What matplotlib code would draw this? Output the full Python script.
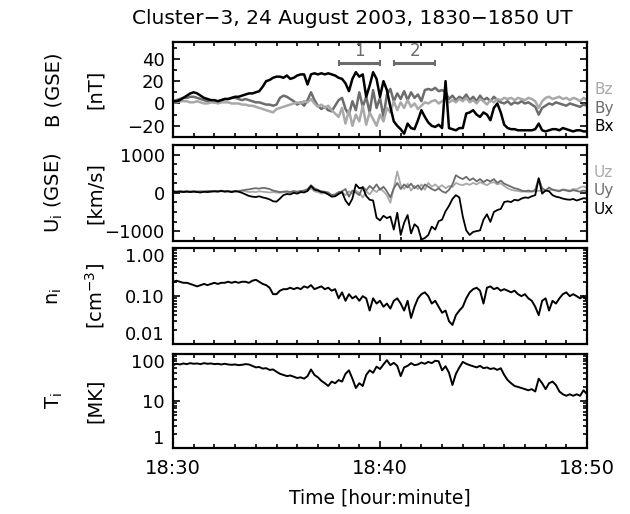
import numpy as np
import matplotlib.pyplot as plt
from matplotlib.ticker import FixedLocator, MultipleLocator, LogLocator, NullFormatter

# sample times: minutes after 18:30, every 10 s
t = np.arange(121) / 6.0

bx = [2, 2, 3, 5, 7, 9, 10, 9, 7, 5, 4, 3, 3, 2, 3, 4, 4, 5, 6, 6,
      7, 8, 9, 9, 10, 11, 15, 20, 21, 23, 24, 24, 23, 25, 22, 23, 25, 26, 26, 17,
      26, 27, 26, 27, 26, 27, 26, 25, 23, 22, 18, 11, 22, 28, 24, 26, 6, 16, 28, 22,
      6, 20, 12, -3, -16, -20, -23, -27, -18, -22, -23, -15, -6, -12, -17, -20, -21, -19, -22, 20,
      -22, -23, -24, -22, -22, -9, -8, -6, -10, -12, -8, -10, -15, -4, 0, -8, -19, -22, -23, -23,
      -24, -24, -24, -24, -24, -23, -18, -24, -25, -24, -23, -23, -24, -22, -23, -24, -25, -24, -24, -25,
      -25]
by = [2, 3, 4, 5, 5, 6, 6, 5, 4, 3, 2, 2, 1, 2, 3, 4, 4, 5, 5, 4,
      3, 4, 3, 2, 1, 1, 0, -1, -1, -2, -1, 5, 7, 6, 4, 2, -1, 1, -2, 3,
      10, 3, -2, -5, -3, -6, -7, -2, 3, 5, -5, -10, 2, -6, 10, -3, 6, -8, 12, -4,
      5, -12, 8, 13, 2, 9, 4, 11, 3, 10, 5, 8, 2, 12, 13, 12, 14, 11, 12, 10,
      4, 7, 3, 6, 4, 8, 3, 6, 2, 7, 3, 5, 2, 6, 3, 1, 0, 2, -1, 1,
      0, 2, 0, 1, -1, -3, -10, -4, -2, 0, -1, 1, 0, -1, -2, 0, -1, -2, -3, -1,
      -2]
bz = [1, 1, 2, 2, 2, 1, 1, 2, 1, 0, 0, 1, 1, 0, 1, 1, 1, 0, 0, 0,
      -1, -1, -2, -2, -3, -4, -5, -6, -7, -8, -5, -4, -3, -2, -1, 0, 1, 0, 2, 1,
      4, 0, -3, -1, -4, -2, -6, -9, -12, -4, -18, -6, -20, -10, -16, -2, -19, -8, -14, -20,
      -10, -16, -4, -8, 2, -6, 1, -4, 3, -3, 0, -5, -2, 1, 0, 2, 3, 0, 2, 4,
      1, 3, 1, 4, 2, 5, 1, 3, 0, 4, 2, -1, 3, 1, 4, 3, 5, 4, 5, 3,
      5, 4, 3, 5, 4, 2, -4, 2, 5, 6, 4, 5, 6, 4, 5, 3, 5, 4, 2, 5,
      3]

ux = [30, 20, 30, 20, 30, 20, 30, 20, 10, 30, 20, 30, 40, 30, 50, 30, 40, 20, 40, 30,
      0, -40, -80, -100, -110, -90, -120, -140, -170, -220, -230, -150, -60, -30, -40, 0, -20, 20, 10, 50,
      180, 80, 60, 20, 10, -40, -100, -90, -30, 20, -200, -320, -150, 220, 120, 140, -80, -180, -200, -650,
      -720, -600, -660, -620, -960, -520, -1100, -780, -580, -1060, -820, -900, -1220, -1180, -1100, -880, -960, -740, -700, -480,
      -340, -160, -60, -120, -620, -980, -1100, -1020, -1000, -980, -700, -560, -760, -500, -450, -420, -240, -220, -240, -180,
      -200, -150, -120, -130, -90, -60, 380, -20, 60, 40, -60, -100, -120, -150, -170, -180, -160, -200, -170, -140,
      -150]
uy = [40, 30, 40, 30, 40, 30, 40, 30, 40, 30, 40, 50, 40, 50, 40, 50, 40, 30, 50, 40,
      60, 80, 90, 110, 120, 110, 130, 120, 100, 60, 40, 20, 30, 40, 20, 40, 30, 50, 60, 100,
      200, 120, 80, 40, 30, 10, -60, -40, 20, 40, 100, -100, 60, 10, -60, 160, 60, 180, 100, 220,
      80, 160, 40, -120, 120, 260, 100, 220, 140, 240, 120, 200, 80, 220, 160, 100, 60, 120, 40, 0,
      80, 220, 460, 400, 360, 420, 330, 380, 300, 360, 280, 340, 300, 360, 260, 320, 240, 200, 160, 120,
      100, 60, 40, 60, 30, 80, 380, 120, 60, 140, 80, 60, 40, 80, 60, 40, 70, 50, 30, 60,
      40]
uz = [50, 40, 50, 40, 50, 40, 50, 40, 30, 40, 50, 40, 50, 40, 60, 40, 50, 40, 40, 50,
      60, 40, 20, 30, 20, 40, 30, 20, 10, 20, 10, 0, 20, 10, 30, 50, 20, 40, 30, 60,
      120, 40, 20, -20, 0, -40, -80, -60, 0, 20, -60, 40, -20, 60, 0, -120, 40, -40, 80, 20,
      120, 40, -60, -260, 120, 560, 200, 100, 240, 60, 180, 100, 220, 80, 260, 160, 220, 140, 200, 120,
      180, 150, 260, 220, 200, 240, 210, 260, 220, 280, 240, 200, 260, 280, 220, 250, 180, 120, 80, 60,
      50, 30, 40, 20, 50, 30, 60, 40, 80, 60, 90, 70, 60, 90, 80, 60, 100, 90, 140, 170,
      120]

ni = [0.20, 0.21, 0.20, 0.19, 0.19, 0.18, 0.17, 0.16, 0.17, 0.18, 0.17, 0.18, 0.19, 0.18, 0.19, 0.19, 0.20, 0.19, 0.20, 0.19,
      0.20, 0.20, 0.19, 0.21, 0.22, 0.20, 0.18, 0.17, 0.15, 0.11, 0.11, 0.13, 0.14, 0.14, 0.15, 0.14, 0.15, 0.14, 0.16, 0.15,
      0.17, 0.14, 0.15, 0.16, 0.14, 0.15, 0.13, 0.14, 0.09, 0.12, 0.08, 0.11, 0.09, 0.10, 0.08, 0.10, 0.09, 0.05, 0.09, 0.07,
      0.08, 0.06, 0.07, 0.055, 0.08, 0.09, 0.07, 0.05, 0.08, 0.035, 0.06, 0.09, 0.11, 0.12, 0.10, 0.07, 0.08, 0.06, 0.045, 0.05,
      0.03, 0.025, 0.04, 0.05, 0.06, 0.09, 0.12, 0.14, 0.15, 0.13, 0.07, 0.15, 0.16, 0.14, 0.15, 0.13, 0.14, 0.13, 0.12, 0.13,
      0.11, 0.10, 0.11, 0.09, 0.08, 0.06, 0.04, 0.08, 0.09, 0.05, 0.08, 0.07, 0.09, 0.11, 0.12, 0.10, 0.11, 0.10, 0.09, 0.10,
      0.08]
ti = [58, 62, 60, 63, 61, 64, 62, 63, 61, 64, 62, 63, 61, 62, 60, 62, 60, 59, 60, 58,
      59, 61, 60, 56, 52, 53, 49, 50, 46, 47, 42, 38, 36, 34, 35, 33, 31, 32, 30, 34,
      47, 36, 32, 27, 24, 21, 26, 24, 28, 26, 38, 45, 30, 19, 24, 21, 36, 45, 40, 54,
      48, 60, 74, 58, 65, 56, 34, 52, 56, 64, 58, 60, 66, 62, 68, 64, 72, 70, 45, 55,
      40, 22, 38, 52, 68, 62, 58, 55, 52, 56, 50, 52, 48, 50, 46, 50, 36, 28, 24, 21,
      20, 19, 18, 17, 18, 16, 30, 24, 18, 24, 26, 22, 16, 14, 13, 14, 13, 14, 13, 17,
      14]

intervals = [(8.0, 10.0), (10.67, 12.67)]
interval_names = ['1', '2']
interval_level = 36

light = '#a9a9a9'
mid = '#6c6c6c'

W, H = 630, 514
fig = plt.figure(figsize=(W / 100, H / 100), dpi=100)


def box(top, bottom):
    return [173 / W, 1 - bottom / H, 414 / W, (bottom - top) / H]


ax1 = fig.add_axes(box(42, 137))
ax2 = fig.add_axes(box(145, 240.7))
ax3 = fig.add_axes(box(248.3, 344))
ax4 = fig.add_axes(box(354, 448.3))
axes = [ax1, ax2, ax3, ax4]

# panel 1: magnetic field
ax1.plot(t, by, color=mid, lw=1.8)
ax1.plot(t, bz, color=light, lw=1.8)
ax1.plot(t, bx, color='black', lw=1.8)
for (a, b), name in zip(intervals, interval_names):
    ax1.plot([a, b], [interval_level, interval_level], color=mid, lw=2.2, solid_capstyle='butt')
    ax1.plot([a, a], [interval_level - 2, interval_level + 2], color=mid, lw=1.5)
    ax1.plot([b, b], [interval_level - 2, interval_level + 2], color=mid, lw=1.5)
    ax1.text((a + b) / 2, interval_level + 2.5, name, color=mid, ha='center', va='bottom', fontsize=12)
ax1.set_ylim(-30, 55)
ax1.set_yticks([-20, 0, 20, 40], ['\u221220', '0', '20', '40'])
ax1.yaxis.set_minor_locator(MultipleLocator(10))

# panel 2: ion velocity
ax2.plot(t, uz, color=light, lw=1.3)
ax2.plot(t, uy, color=mid, lw=1.3)
ax2.plot(t, ux, color='black', lw=1.3)
ax2.set_ylim(-1250, 1250)
ax2.set_yticks([-1000, 0, 1000], ['\u22121000', '0', '1000'])
ax2.yaxis.set_minor_locator(MultipleLocator(250))

# panel 3: density
ax3.plot(t, ni, color='black', lw=1.4)
ax3.set_yscale('log')
ax3.set_ylim(0.01, 1)
ax3.set_yticks([0.01, 0.1, 1], ['0.01', '0.10', '1.00'])

# panel 4: temperature
ax4.plot(t, ti, color='black', lw=1.4)
ax4.set_yscale('log')
ax4.set_ylim(1, 100)
ax4.set_yticks([1, 10, 100], ['1', '10', '100'])

for ax in (ax3, ax4):
    ax.yaxis.set_minor_locator(LogLocator(subs=np.arange(2, 10)))
    ax.yaxis.set_minor_formatter(NullFormatter())
    labs = ax.get_yticklabels()
    labs[0].set_va('bottom')
    labs[-1].set_va('top')

for ax in axes:
    ax.set_xlim(0, 20)
    ax.xaxis.set_major_locator(FixedLocator([0, 10, 20]))
    ax.xaxis.set_minor_locator(MultipleLocator(1))
    ax.tick_params(which='both', direction='in', top=True, right=True, width=1.2,
                   labelsize=13, pad=6, labelbottom=False)
    ax.tick_params(which='major', length=5)
    ax.tick_params(which='minor', length=3)
    for s in ax.spines.values():
        s.set_linewidth(1.6)

ax4.set_xticks([0, 10, 20], ['18:30', '18:40', '18:50'])
ax4.tick_params(axis='x', labelbottom=True, pad=8, labelsize=14)

fig.text(352 / W, 1 - 18 / H, 'Cluster\u22123, 24 August 2003, 1830\u22121850 UT',
         ha='center', va='center', fontsize=14.5)
fig.text(380 / W, 1 - 498 / H, 'Time [hour:minute]', ha='center', va='center', fontsize=13.5)

ylabels = [('B (GSE)', '[nT]'),
           (r'U$_\mathregular{i}$ (GSE)', '[km/s]'),
           (r'n$_\mathregular{i}$', r'[cm$^{\mathregular{-3}}$]'),
           (r'T$_\mathregular{i}$', '[MK]')]
for ax, (l1, l2) in zip(axes, ylabels):
    x0, y0, w, h = ax.get_position().bounds
    yc = y0 + h / 2
    fig.text(54 / W, yc, l1, rotation=90, ha='center', va='center', fontsize=14)
    fig.text(95 / W, yc, l2, rotation=90, ha='center', va='center', fontsize=14)

# component names at the right of the first two panels
for name, col, ypix in [('Bz', light, 94), ('By', mid, 112.5), ('Bx', 'black', 131),
                        ('Uz', light, 177), ('Uy', mid, 195.5), ('Ux', 'black', 214)]:
    fig.text(594 / W, 1 - ypix / H, name, color=col, ha='left', va='baseline', fontsize=11)

fig.savefig('out.png', dpi=100)
